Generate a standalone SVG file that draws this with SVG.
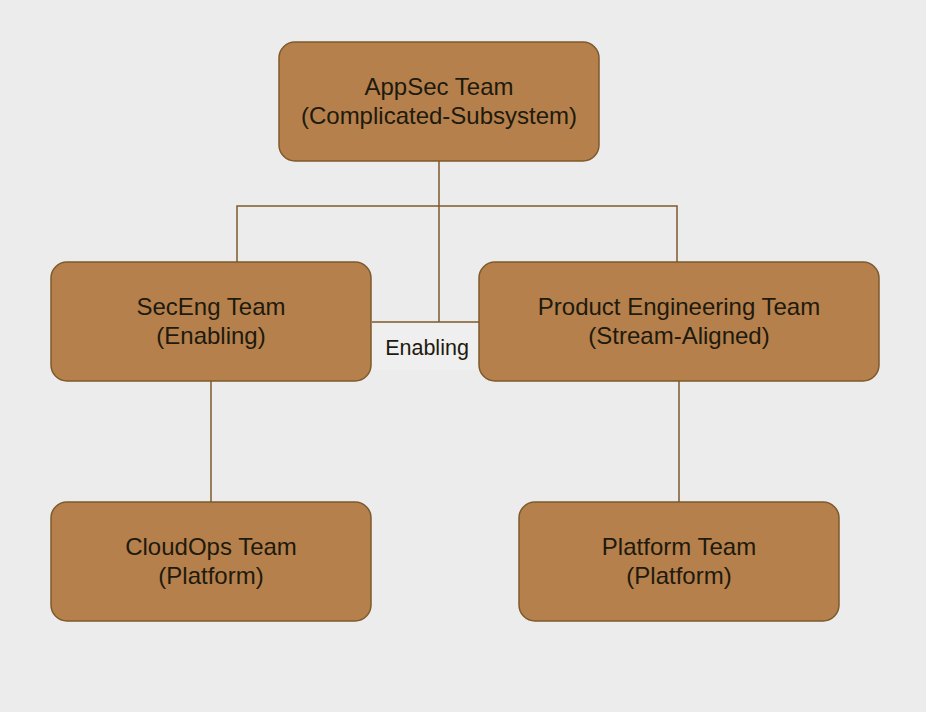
<svg xmlns="http://www.w3.org/2000/svg" width="926" height="712" viewBox="0 0 926 712">
<style>
.node rect{fill:#b5804b;stroke:#7d5a2c;stroke-width:1.5}
.node text{font-family:"Liberation Sans",Arial,sans-serif;font-size:24px;fill:#1e1a0e;text-anchor:middle}
.edge{fill:none;stroke:#7d5a2c;stroke-width:1.5}
.elabel{font-family:"Liberation Sans",Arial,sans-serif;font-size:21.5px;fill:#1e1a0e;text-anchor:middle}
</style>
<rect x="0" y="0" width="926" height="712" fill="#ececec"/>
<g id="connectors">
<path class="edge" d="M439 161 V206 M237 265 V206 H677 V265"/>
<rect x="372" y="322" width="107" height="48" fill="#efefef"/>
<path class="edge" d="M439 206 V322 M372 322 H479"/>
<text class="elabel" x="427" y="354.5">Enabling</text>
<path class="edge" d="M211 381 V502 M679 381 V502"/>
</g>
<g id="appsec" class="node">
<rect x="279" y="42" width="320" height="119" rx="16"/>
<text x="439" y="94.5">AppSec Team</text>
<text x="439" y="123.5">(Complicated-Subsystem)</text>
</g>
<g id="seceng" class="node">
<rect x="51" y="262" width="320" height="119" rx="16"/>
<text x="211" y="314.5">SecEng Team</text>
<text x="211" y="343.5">(Enabling)</text>
</g>
<g id="product" class="node">
<rect x="479" y="262" width="400" height="119" rx="16"/>
<text x="679" y="314.5">Product Engineering Team</text>
<text x="679" y="343.5">(Stream-Aligned)</text>
</g>
<g id="cloudops" class="node">
<rect x="51" y="502" width="320" height="119" rx="16"/>
<text x="211" y="554.5">CloudOps Team</text>
<text x="211" y="583.5">(Platform)</text>
</g>
<g id="platform" class="node">
<rect x="519" y="502" width="320" height="119" rx="16"/>
<text x="679" y="554.5">Platform Team</text>
<text x="679" y="583.5">(Platform)</text>
</g>
</svg>
